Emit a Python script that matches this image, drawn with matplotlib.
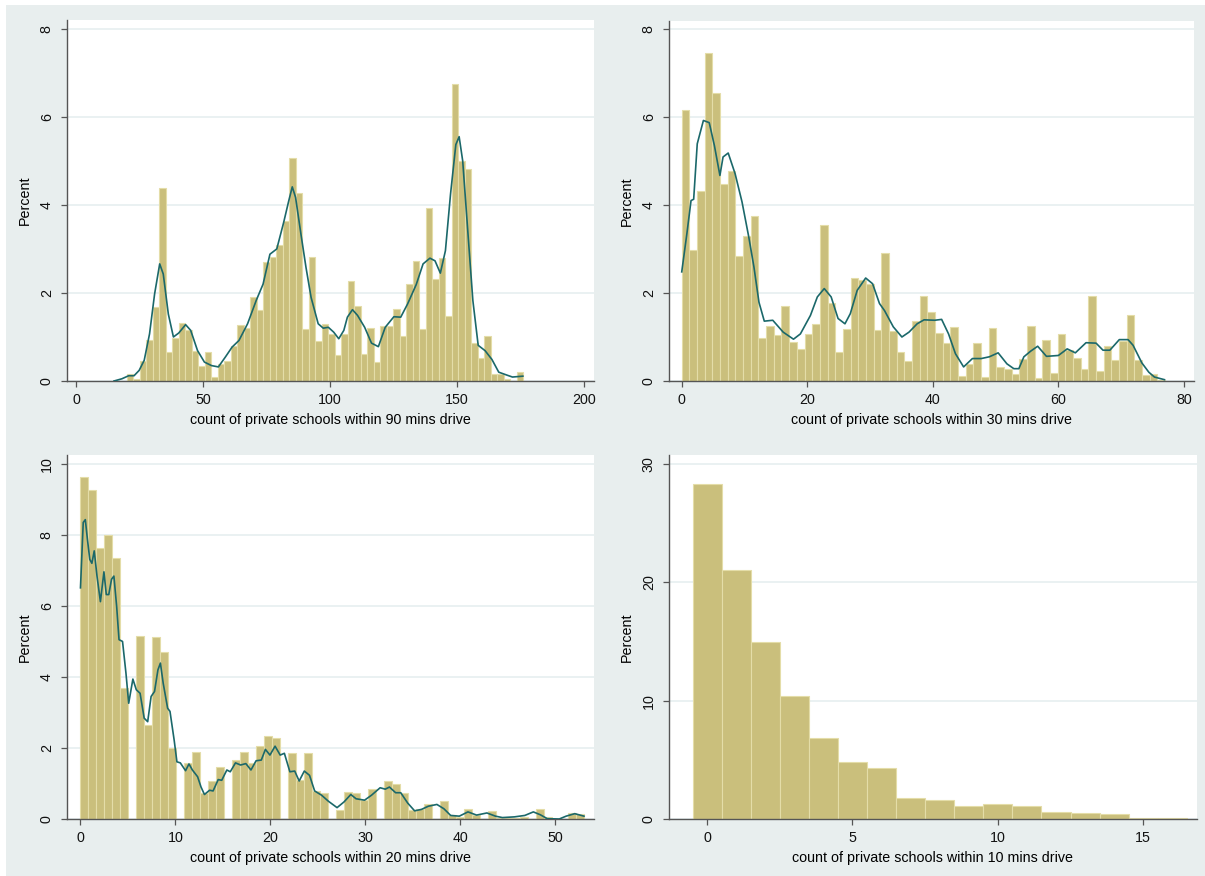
import numpy as np
import matplotlib
matplotlib.use("Agg")
from matplotlib import pyplot as plt
from matplotlib.patches import Rectangle

plt.rcParams['font.family'] = ['Liberation Sans', 'DejaVu Sans']

# 90 mins: 61 bins between 20 and 176
pct90 = [0.17, 0.05, 0.45, 0.92, 1.69, 4.38, 0.67, 0.97, 1.32, 1.16,
         0.68, 0.33, 0.65, 0.08, 0.38, 0.45, 0.79, 1.28, 1.20, 1.91,
         1.62, 2.70, 2.82, 3.08, 3.63, 5.06, 4.26, 1.18, 2.82, 0.90,
         1.30, 1.06, 0.60, 1.06, 2.27, 1.71, 0.62, 1.21, 0.44, 1.24,
         1.24, 1.64, 1.02, 2.21, 2.72, 1.19, 3.93, 2.32, 2.80, 1.48,
         6.75, 5.00, 4.81, 0.87, 0.52, 1.03, 0.17, 0.17, 0.05, 0.00, 0.21]
range90 = (20, 176)
kde90_x = [14.9, 18.0, 20.7, 22.8, 24.8, 26.8, 28.9, 30.9, 32.9, 34.3, 36.3, 38.3, 40.4,
           43.1, 45.1, 47.8, 50.5, 53.3, 56.0, 58.7, 61.4, 64.1, 67.5, 70.9, 73.6, 76.3,
           79.0, 81.7, 83.7, 85.1, 86.4, 88.5, 90.5, 92.5, 95.3, 97.3, 99.3, 101.4, 103.4,
           105.4, 106.8, 108.8, 110.8, 113.6, 116.3, 119.0, 121.7, 125.1, 127.8, 130.5,
           133.9, 136.6, 139.3, 141.3, 143.4, 145.4, 147.4, 149.5, 150.8, 152.2, 154.2,
           156.2, 158.3, 161.0, 163.7, 166.4, 169.8, 171.8, 175.9]
kde90_y = [0.0, 0.05, 0.12, 0.12, 0.24, 0.47, 1.07, 1.98, 2.66, 2.43, 1.52, 1.0, 1.09,
           1.28, 1.15, 0.69, 0.43, 0.35, 0.32, 0.54, 0.77, 0.92, 1.3, 1.83, 2.2, 2.88,
           3.0, 3.6, 4.09, 4.41, 4.17, 3.34, 2.58, 1.9, 1.3, 1.2, 1.22, 1.11, 0.96,
           1.15, 1.45, 1.62, 1.49, 1.22, 0.86, 0.78, 1.22, 1.46, 1.45, 1.75,
           2.19, 2.66, 2.79, 2.73, 2.45, 2.96, 4.24, 5.37, 5.55, 5.0, 3.41,
           1.83, 0.81, 0.69, 0.49, 0.2, 0.13, 0.09, 0.11]

# 30 mins: 63 bins between 0 and 77
pct30 = [6.16, 2.97, 4.31, 7.46, 6.55, 4.47, 4.77, 2.85, 3.29, 3.75,
         0.98, 1.24, 1.05, 1.71, 0.88, 0.72, 1.06, 1.29, 3.55, 1.77,
         0.67, 1.18, 2.35, 2.29, 2.21, 1.17, 2.90, 1.14, 0.67, 0.45,
         1.36, 1.93, 1.56, 1.10, 0.86, 1.23, 0.12, 0.38, 0.86, 0.10,
         1.20, 0.32, 0.28, 0.17, 0.51, 1.24, 0.06, 0.94, 0.18, 1.07,
         0.71, 0.52, 0.28, 1.93, 0.22, 0.79, 0.47, 0.92, 1.49, 0.47,
         0.14, 0.15, 0.03]
range30 = (0, 77)
kde30_x = [0, 0.82, 1.48, 1.9, 2.47, 3.45, 4.38, 5.2, 6.08, 6.58, 7.4, 8.5, 9.6, 10.68,
           11.5, 12.3, 13.15, 14.5, 16.16, 17.8, 18.9, 20.5, 21.6, 22.7, 23.8, 24.9,
           26.0, 26.85, 27.95, 29.3, 30.4, 31.5, 32.3, 33.7, 35.07, 36.2, 37.5, 38.6,
           40.3, 41.4, 42.5, 43.6, 44.9, 46.3, 47.7, 49.0, 50.4, 51.8, 52.9, 53.7, 54.5,
           55.6, 56.7, 58.1, 60.0, 61.4, 62.7, 64.4, 66.0, 67.1, 68.2, 69.7, 71.1, 71.9,
           73.3, 74.4, 75.3, 76.9]
kde30_y = [2.48, 3.35, 4.1, 4.13, 5.39, 5.92, 5.87, 5.35, 4.67, 5.09, 5.18, 4.71, 4.07, 3.27,
           2.59, 1.79, 1.36, 1.38, 1.11, 0.95, 1.07, 1.49, 1.91, 2.1, 1.91, 1.42,
           1.3, 1.53, 2.06, 2.34, 2.21, 1.76, 1.6, 1.23, 1.0, 1.11, 1.3, 1.39,
           1.38, 1.4, 1.07, 0.62, 0.32, 0.51, 0.51, 0.55, 0.64, 0.39, 0.28, 0.28, 0.55,
           0.68, 0.79, 0.56, 0.58, 0.73, 0.64, 0.87, 0.86, 0.7, 0.7, 0.94, 0.94, 0.81,
           0.41, 0.2, 0.09, 0.03]

# 20 mins: percent at each count 0..53, 63 bins between 0 and 53
count20 = list(range(54))
pct20 = [9.62, 9.27, 7.62, 7.99, 7.36, 3.68, 5.15, 2.65, 5.12, 4.71,
         2.01, 1.58, 1.89, 0.74, 1.06, 1.47, 1.66, 1.90, 1.59, 2.06,
         2.35, 2.27, 1.85, 1.09, 1.85, 0.78, 0.72, 0.26, 0.76, 0.74,
         0.54, 0.84, 1.07, 0.98, 0.72, 0.24, 0.27, 0.43, 0.50, 0.10,
         0.05, 0.29, 0.12, 0.23, 0.03, 0.02, 0.03, 0.06, 0.27, 0.05,
         0.00, 0.00, 0.18, 0.13]
kde20_x = [0, 0.29, 0.51, 0.73, 0.98, 1.2, 1.45, 1.74, 2.1, 2.47, 2.72, 2.98, 3.27, 3.52,
           3.81, 4.06, 4.43, 4.79, 5.08, 5.52, 5.88, 6.28, 6.71, 7.08, 7.44, 7.8, 8.16,
           8.42, 8.71, 9.18, 9.43, 9.87, 10.16, 10.52, 11.07, 11.43, 11.79, 12.34, 12.7,
           13.06, 13.6, 13.97, 14.51, 14.88, 15.42, 15.78, 16.33, 16.87, 17.42, 17.96,
           18.5, 19.05, 19.48, 19.96, 20.5, 21.04, 21.48, 22.06, 22.57, 23.04, 23.58,
           24.13, 24.67, 25.4, 26.12, 27.03, 27.76, 28.48, 29.03, 29.93, 30.66, 31.57,
           32.11, 32.55, 33.2, 33.74, 34.47, 35.2, 35.92, 36.65, 37.55, 38.28, 39.0,
           39.91, 40.82, 41.73, 42.82, 43.72, 44.45, 45.72, 46.81, 47.71, 48.44, 49.17,
           50.44, 51.16, 52.07, 53.05]
kde20_y = [6.51, 8.35, 8.43, 7.88, 7.31, 7.2, 7.55, 6.84, 6.12, 6.96, 6.32, 6.32, 6.75, 6.84,
           5.99, 5.05, 5.0, 4.11, 3.26, 3.94, 3.64, 3.54, 2.84, 2.74, 3.45, 3.59, 4.2,
           4.39, 3.83, 3.12, 3.03, 2.22, 1.61, 1.58, 1.36, 1.55, 1.38, 1.19, 0.9,
           0.69, 0.81, 0.79, 1.11, 1.09, 1.38, 1.33, 1.58, 1.52, 1.56, 1.38,
           1.64, 1.66, 1.96, 1.8, 2.05, 1.8, 1.85, 1.33, 1.35, 1.07, 1.35,
           1.23, 0.79, 0.67, 0.5, 0.32, 0.48, 0.69, 0.57, 0.53, 0.67, 0.88,
           0.84, 0.9, 0.74, 0.74, 0.45, 0.23, 0.27, 0.36, 0.41, 0.29, 0.1,
           0.08, 0.2, 0.11, 0.17, 0.08, 0.04, 0.06, 0.1, 0.2, 0.12, 0.01,
           0.0, 0.08, 0.15, 0.08]

# 10 mins: percent at each count 0..16
count10 = list(range(17))
pct10 = [28.3, 21.03, 14.93, 10.4, 6.81, 4.83, 4.35, 1.81, 1.58, 1.1,
         1.24, 1.07, 0.59, 0.48, 0.45, 0.08, 0.08]

xlabels = ["count of private schools within 90 mins drive",
           "count of private schools within 30 mins drive",
           "count of private schools within 20 mins drive",
           "count of private schools within 10 mins drive"]

BAR = '#CABF7C'
BAR_EDGE = '#E4DDA8'
LINE = '#1B686A'
BG = '#E8EEEE'
AX = '#555555'
FS = 10.3

W, H = 1205, 876
fig = plt.figure(figsize=(W / 100, H / 100), dpi=100)
fig.patch.set_facecolor('white')
bg = Rectangle((6 / W, 0), 1, 1 - 5 / H, transform=fig.transFigure,
               facecolor=BG, edgecolor='none', zorder=-10)
fig.add_artist(bg)


def px_axes(l, t, r, b):
    return fig.add_axes([l / W, 1 - b / H, (r - l) / W, (b - t) / H])


def style(ax, xlim, ylim, xticks, yticks, xlabel):
    ax.set_xlim(*xlim)
    ax.set_ylim(*ylim)
    ax.set_xticks(xticks)
    ax.set_yticks(yticks)
    ax.set_facecolor('white')
    for s in ['top', 'right']:
        ax.spines[s].set_visible(False)
    for s in ['left', 'bottom']:
        ax.spines[s].set_color(AX)
        ax.spines[s].set_linewidth(1.0)
    ax.tick_params(direction='out', length=4, width=0.9, color=AX,
                   labelsize=FS, labelcolor='#111111')
    ax.tick_params(axis='x', pad=4.3)
    ax.tick_params(axis='y', labelrotation=90, pad=5.5)
    for lab in ax.get_yticklabels():
        lab.set_va('center')
    ax.yaxis.grid(True, color='#E4EDEF', linewidth=1.1)
    ax.set_axisbelow(True)
    ax.set_xlabel(xlabel, fontsize=FS, labelpad=5)
    ax.set_ylabel('Percent', fontsize=FS, labelpad=6)


def hist_bins(ax, pct, rng):
    edges = np.linspace(rng[0], rng[1], len(pct) + 1)
    centers = (edges[:-1] + edges[1:]) / 2
    ax.hist(centers, bins=edges, weights=pct, color=BAR, edgecolor=BAR_EDGE,
            linewidth=0.8, zorder=2)


# 90 mins
ax1 = px_axes(67, 20, 594, 381)
hist_bins(ax1, pct90, range90)
ax1.plot(kde90_x, kde90_y, color=LINE, lw=1.2, zorder=3)
style(ax1, (-3.6, 203.9), (0, 8.2), [0, 50, 100, 150, 200], [0, 2, 4, 6, 8], xlabels[0])

# 30 mins
ax2 = px_axes(669, 21, 1194, 381)
hist_bins(ax2, pct30, range30)
ax2.plot(kde30_x, kde30_y, color=LINE, lw=1.2, zorder=3)
style(ax2, (-2.03, 81.6), (0, 8.18), [0, 20, 40, 60, 80], [0, 2, 4, 6, 8], xlabels[1])

# 20 mins
ax3 = px_axes(67, 455, 594, 819)
ax3.hist(count20, bins=np.linspace(0, 53, 64), weights=pct20, color=BAR,
         edgecolor=BAR_EDGE, linewidth=0.8, zorder=2)
ax3.plot(kde20_x, kde20_y, color=LINE, lw=1.2, zorder=3)
style(ax3, (-1.42, 54.1), (0, 10.25), [0, 10, 20, 30, 40, 50], [0, 2, 4, 6, 8, 10], xlabels[2])

# 10 mins
ax4 = px_axes(669, 455, 1197, 819)
ax4.hist(count10, bins=np.arange(-0.5, 17.5, 1), weights=pct10, color=BAR,
         edgecolor=BAR_EDGE, linewidth=0.8, zorder=2)
style(ax4, (-1.31, 16.85), (0, 30.76), [0, 5, 10, 15], [0, 10, 20, 30], xlabels[3])

fig.savefig('out.png', dpi=100, facecolor=fig.get_facecolor())
